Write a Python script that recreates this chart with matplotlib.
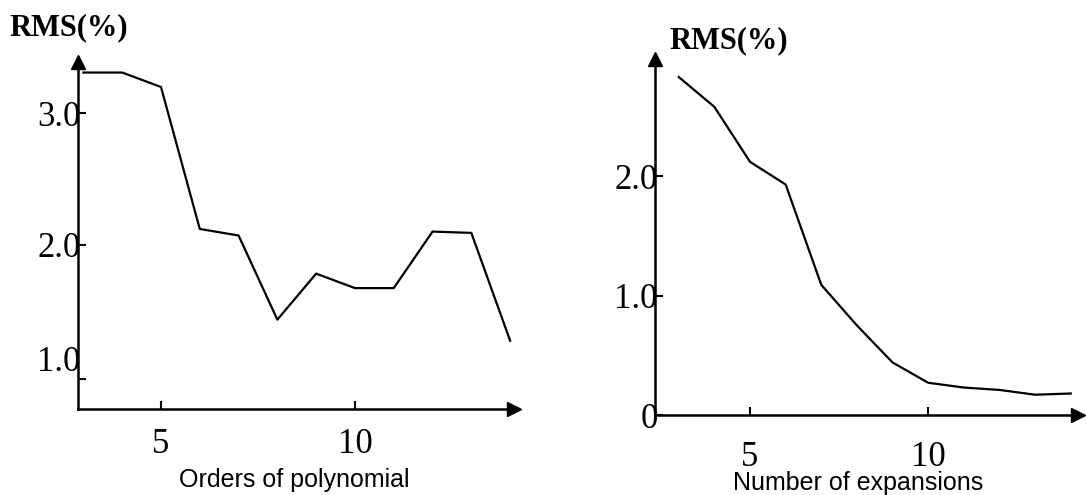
import matplotlib.pyplot as plt

# values
orders = [3, 4, 5, 6, 7, 8, 9, 10, 11, 12, 13, 14]
rms_orders = [3.31, 3.31, 3.20, 2.12, 2.07, 1.43, 1.78, 1.67, 1.67, 2.10, 2.09, 1.27]

expansions = [3, 4, 5, 6, 7, 8, 9, 10, 11, 12, 13, 14]
rms_expansions = [2.83, 2.58, 2.12, 1.93, 1.09, 0.75, 0.44, 0.27, 0.23, 0.21, 0.17, 0.18]

left_yticks = [0.98, 2.0, 3.0]
left_ylabels = ["1.0", "2.0", "3.0"]
right_yticks = [0, 1.0, 2.0]
right_ylabels = ["0", "1.0", "2.0"]
xticks = [5, 10]

serif = "Liberation Serif"
sans = "Liberation Sans"

fig = plt.figure(figsize=(10.86, 4.95), dpi=100)
ax1 = fig.add_axes([0.0718, 0.1737, 0.4015, 0.701])
ax2 = fig.add_axes([0.603, 0.1616, 0.3895, 0.719])


def style_axis(ax, xlim, ylim, yticks, ylabels, xpad):
    ax.set_xlim(*xlim)
    ax.set_ylim(*ylim)
    for s in ["top", "right"]:
        ax.spines[s].set_visible(False)
    for s in ["left", "bottom"]:
        ax.spines[s].set_linewidth(1.8)
    ax.set_xticks(xticks)
    ax.set_xticklabels([str(t) for t in xticks], fontfamily=serif, fontsize=25)
    ax.set_yticks(yticks)
    ax.set_yticklabels(ylabels, fontfamily=serif, fontsize=25)
    ax.tick_params(axis="both", direction="in", length=6, width=1.5)
    ax.tick_params(axis="y", pad=-2)
    ax.tick_params(axis="x", pad=xpad)
    # arrow heads at the ends of the axes
    ax.plot(1, 0, ">", color="black", markersize=10, transform=ax.transAxes, clip_on=False)
    ax.plot(0, 1, "^", color="black", markersize=10, transform=ax.transAxes, clip_on=False)


ax1.plot(orders, rms_orders, color="black", linewidth=1.6)
style_axis(ax1, (2.86, 14.1), (0.75, 3.39), left_yticks, left_ylabels, 14)
for lab in ax1.get_yticklabels():
    if lab.get_text() == "1.0":
        lab.set_verticalalignment("bottom")
ax1.set_xlabel("Orders of polynomial", fontfamily=sans, fontsize=18)
ax1.xaxis.set_label_coords(0.495, -0.17)
fig.text(0.009, 0.945, "RMS(%)", fontfamily=serif, fontweight="bold", fontsize=22,
         va="center", ha="left")

ax2.plot(expansions, rms_expansions, color="black", linewidth=1.6)
style_axis(ax2, (2.33, 14.2), (0, 2.98), right_yticks, right_ylabels, 19)
ax2.set_xlabel("Number of expansions", fontfamily=sans, fontsize=18)
ax2.xaxis.set_label_coords(0.48, -0.158)
fig.text(0.616, 0.918, "RMS(%)", fontfamily=serif, fontweight="bold", fontsize=22,
         va="center", ha="left")

fig.savefig("out.png", dpi=100)
